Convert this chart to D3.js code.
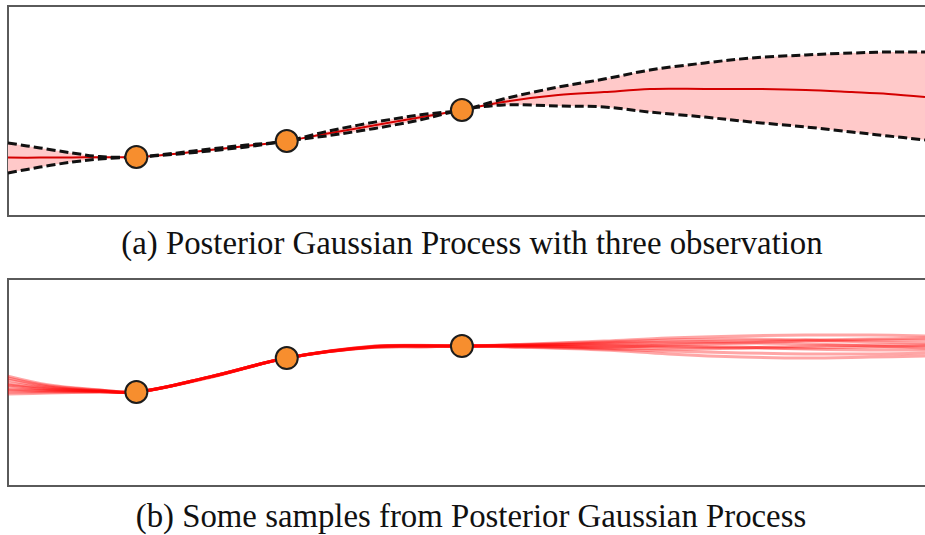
<!DOCTYPE html>
<html>
<head>
<meta charset="utf-8">
<script src="https://cdn.jsdelivr.net/npm/d3@7"></script>
<style>
  html, body { margin: 0; padding: 0; background: #fff; overflow: hidden; }
  text { font-family: "Liberation Serif", "Times New Roman", serif; fill: #111; }
</style>
</head>
<body>
<svg id="chart" width="925" height="535"></svg>
<script>
// observations (shared x, one y per panel)
const obsX = [14, 30.4, 49.5]
const obsYTop = [28.1, 35.7, 50.5]
const obsYBottom = [45.4, 61.8, 67.6]

// (a) posterior mean and +/- band
const gridTop = [0, 3.5, 7, 10, 14, 18, 22, 26, 30.4, 35, 40, 45, 49.5, 54, 60, 65, 70, 76, 81, 87, 92, 96, 100]
const meanTop = [27.8, 27.8, 27.9, 28.0, 28.1, 29.5, 31.4, 33.3, 35.7, 39.4, 43.2, 47.0, 50.5, 54.3, 57.6, 59.0, 60.5, 60.5, 60.5, 60.0, 59.0, 58.1, 56.7]
const upperTop = [34.8, 32.4, 30.0, 28.3, 28.1, 29.8, 31.9, 33.8, 35.7, 40.5, 44.7, 48.2, 50.5, 55.7, 61.4, 65.2, 69.5, 72.9, 75.2, 76.7, 77.6, 78.1, 78.1]
const lowerTop = [20.5, 23.3, 25.7, 27.1, 28.1, 29.3, 31.0, 32.9, 35.7, 38.3, 41.7, 45.8, 50.5, 52.9, 52.4, 51.9, 49.5, 47.1, 44.8, 42.4, 40.0, 38.1, 36.2]

// (b) posterior samples
const gridBottom = [0, 4.5, 10, 14, 22, 30.4, 40, 45, 49.5, 57, 65, 72, 80, 87, 94, 100]
const samples = [
  [53.1, 48.8, 46.4, 45.4, 52.7, 61.8, 67.5, 67.9, 67.6, 68.6, 70.0, 71.5, 72.5, 72.9, 72.9, 72.5],
  [51.2, 47.8, 46.1, 45.4, 52.7, 61.8, 67.3, 67.7, 67.6, 68.1, 69.1, 69.6, 70.0, 70.5, 71.0, 71.5],
  [49.8, 47.3, 45.9, 45.4, 52.7, 61.8, 67.4, 67.8, 67.6, 67.6, 67.6, 67.1, 66.7, 66.7, 67.1, 67.6],
  [48.3, 46.6, 45.9, 45.4, 52.4, 61.8, 67.0, 67.3, 67.6, 67.1, 66.2, 65.2, 64.3, 63.8, 63.8, 64.3],
  [46.9, 46.1, 45.7, 45.4, 52.7, 61.8, 67.2, 67.6, 67.6, 68.1, 68.6, 69.1, 69.1, 68.6, 67.6, 66.7],
  [45.4, 45.4, 45.4, 45.4, 52.4, 61.8, 67.0, 67.2, 67.6, 66.9, 65.7, 63.8, 62.3, 61.8, 62.3, 62.8],
  [44.4, 44.9, 45.4, 45.4, 52.7, 61.8, 67.6, 68.0, 67.6, 68.4, 69.6, 70.5, 71.0, 70.5, 69.6, 69.1],
  [52.2, 48.3, 46.4, 45.4, 52.7, 61.8, 67.3, 67.7, 67.6, 67.6, 67.1, 68.1, 69.1, 70.0, 70.5, 70.5],
  [48.8, 46.9, 45.9, 45.4, 52.7, 61.8, 67.5, 67.8, 67.6, 68.1, 68.1, 67.6, 67.1, 66.2, 65.7, 65.7],
  [46.4, 45.9, 45.7, 45.4, 52.7, 61.8, 67.1, 67.4, 67.6, 67.4, 66.7, 66.2, 66.7, 67.6, 68.1, 68.1]
]

const captions = [
  '(a) Posterior Gaussian Process with three observation',
  '(b) Some samples from Posterior Gaussian Process'
]

const svg = d3.select('#chart')
const curve = d3.curveCatmullRom

const panels = [
  { top: 6, bottom: 216, capY: 254, capX: 472 },
  { top: 279, bottom: 486, capY: 527, capX: 471 }
]

const xScale = d3.scaleLinear().domain([0, 100]).range([8, 925])

function drawFrame(p) {
  svg.append('rect')
    .attr('x', 8).attr('y', p.top)
    .attr('width', 925).attr('height', p.bottom - p.top)
    .attr('fill', 'none')
    .attr('stroke', '#5a5a5a')
    .attr('stroke-width', 2)
}

function drawDots(g, yScale, ys) {
  g.selectAll('circle')
    .data(obsX.map((x, i) => [x, ys[i]]))
    .join('circle')
    .attr('cx', d => xScale(d[0]))
    .attr('cy', d => yScale(d[1]))
    .attr('r', 11)
    .attr('fill', '#f78e2e')
    .attr('stroke', '#1c1c1c')
    .attr('stroke-width', 2)
}

// panel (a)
{
  const p = panels[0]
  const yScale = d3.scaleLinear().domain([0, 100]).range([p.bottom, p.top])
  drawFrame(p)
  const g = svg.append('g')
  const rows = gridTop.map((x, i) => ({ x, m: meanTop[i], hi: upperTop[i], lo: lowerTop[i] }))

  g.append('path')
    .attr('d', d3.area().curve(curve)
      .x(d => xScale(d.x)).y0(d => yScale(d.lo)).y1(d => yScale(d.hi))(rows))
    .attr('fill', '#ffc9c9')

  g.append('path')
    .attr('d', d3.line().curve(curve).x(d => xScale(d.x)).y(d => yScale(d.m))(rows))
    .attr('fill', 'none')
    .attr('stroke', '#d40000')
    .attr('stroke-width', 2)

  ;['hi', 'lo'].forEach(k => {
    g.append('path')
      .attr('d', d3.line().curve(curve).x(d => xScale(d.x)).y(d => yScale(d[k]))(rows))
      .attr('fill', 'none')
      .attr('stroke', '#111')
      .attr('stroke-width', 3)
      .attr('stroke-dasharray', '9,4')
  })

  drawDots(g, yScale, obsYTop)
}

// panel (b)
{
  const p = panels[1]
  const yScale = d3.scaleLinear().domain([0, 100]).range([p.bottom, p.top])
  drawFrame(p)
  const g = svg.append('g')
  const line = d3.line().curve(curve)
    .x((d, i) => xScale(gridBottom[i]))
    .y(d => yScale(d))

  g.selectAll('path.sample')
    .data(samples)
    .join('path')
    .attr('class', 'sample')
    .attr('d', line)
    .attr('fill', 'none')
    .attr('stroke', '#ff0000')
    .attr('stroke-opacity', 0.35)
    .attr('stroke-width', 3)

  drawDots(g, yScale, obsYBottom)
}

// captions
captions.forEach((c, i) => {
  svg.append('text')
    .attr('x', panels[i].capX)
    .attr('y', panels[i].capY)
    .attr('text-anchor', 'middle')
    .attr('font-size', 32.8)
    .text(c)
})
</script>
</body>
</html>
